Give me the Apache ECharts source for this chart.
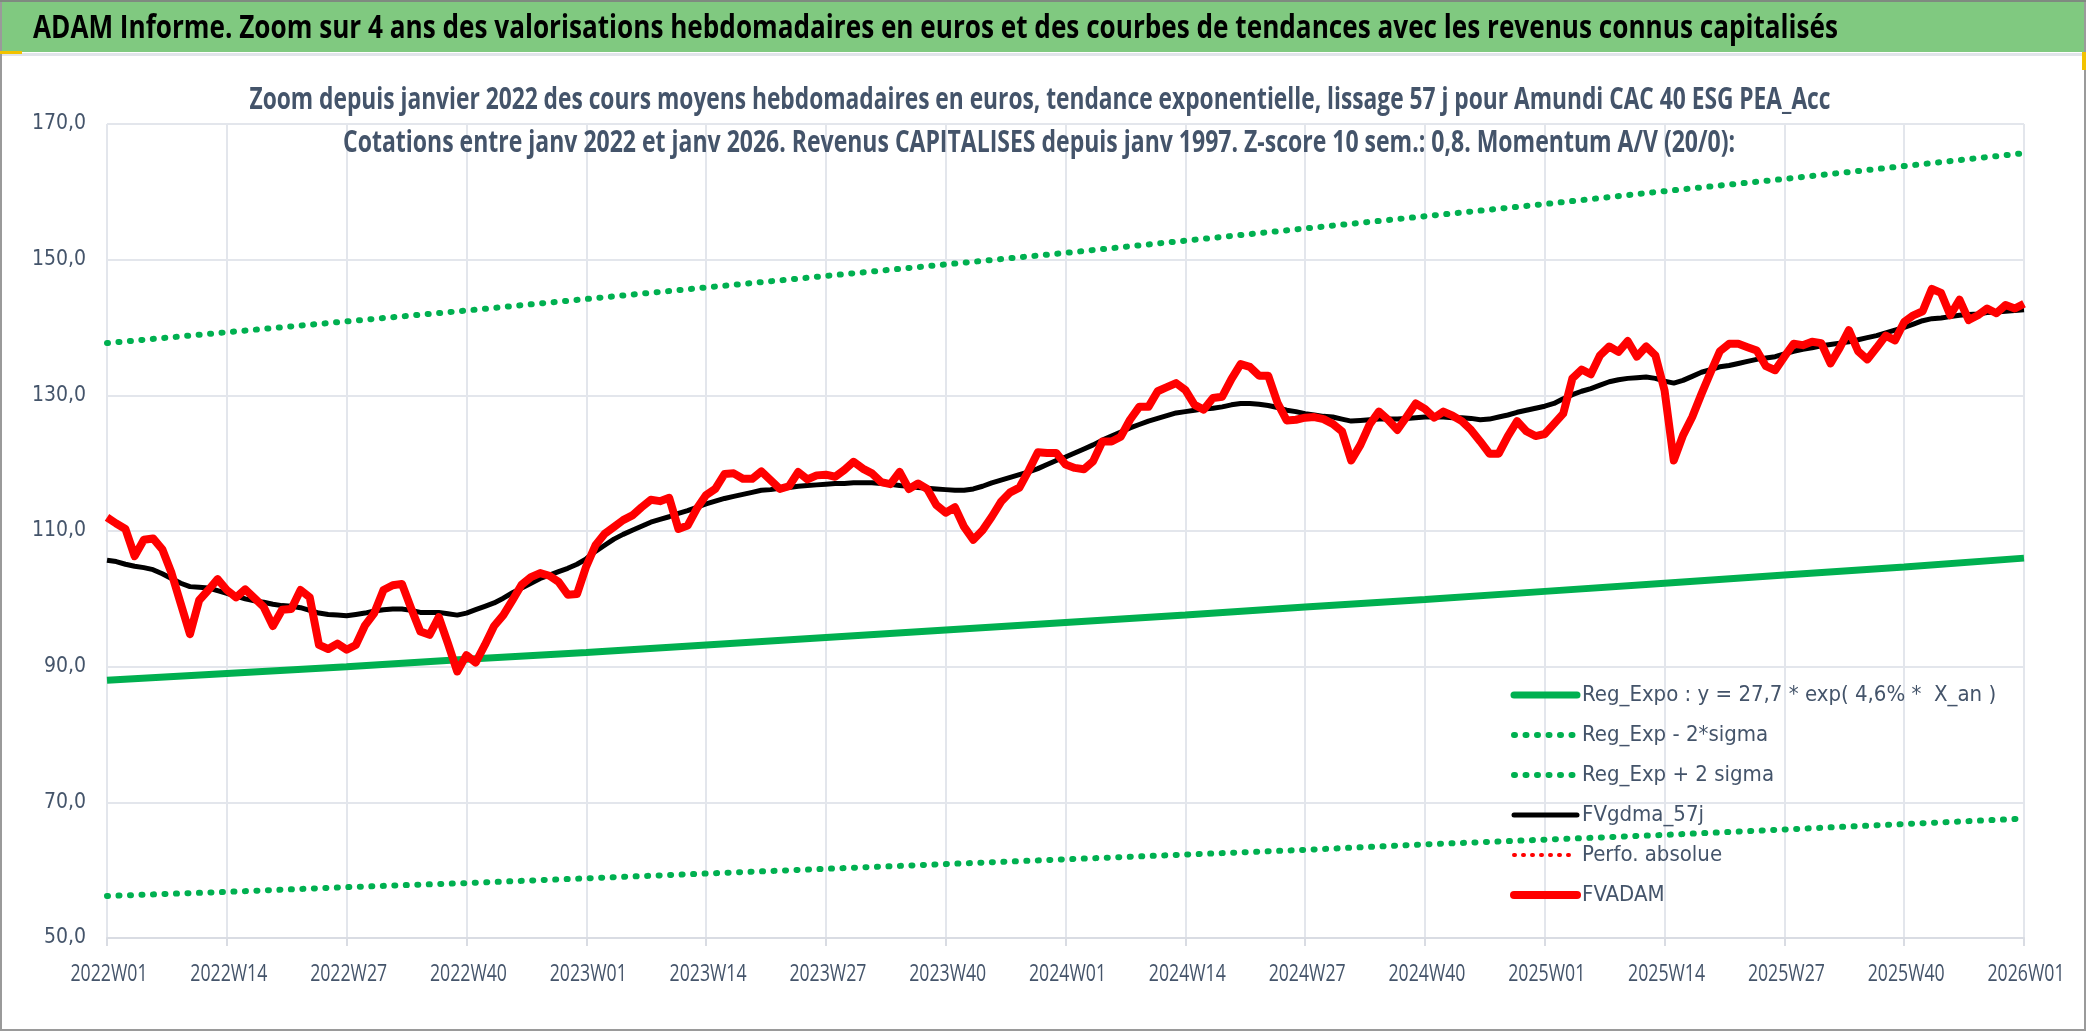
<!DOCTYPE html>
<html>
<head>
<meta charset="utf-8">
<script src="https://cdn.jsdelivr.net/npm/echarts@6/dist/echarts.min.js"></script>
<style>
html,body{margin:0;padding:0;background:#fff;}
#c{width:2086px;height:1031px;}
</style>
</head>
<body>
<div id="c"></div>
<script>
// ---- data ----
const years = [2022, 2023, 2024, 2025];
const weeksPerYear = 52;
const lastLabel = '2026W01';
const yTicks = [50, 70, 90, 110, 130, 150, 170];

const mainTitle = 'ADAM Informe. Zoom sur 4 ans des valorisations hebdomadaires en euros et des courbes de tendances avec les revenus connus capitalisés';
const subTitle1 = 'Zoom depuis janvier 2022 des cours moyens hebdomadaires en euros, tendance exponentielle, lissage 57 j pour Amundi CAC 40 ESG PEA_Acc';
const subTitle2 = 'Cotations entre janv 2022 et janv 2026. Revenus CAPITALISES depuis janv 1997. Z-score 10 sem.: 0,8. Momentum A/V (20/0):';
const seriesNames = ['Reg_Expo : y = 27,7 * exp( 4,6% *  X_an )', 'Reg_Exp - 2*sigma', 'Reg_Exp + 2 sigma', 'FVgdma_57j', 'Perfo. absolue', 'FVADAM'];

// FVADAM weekly values (2022W01 .. 2026W01)
const fvadam = [
112.0,111.1,110.3,106.3,108.7,108.9,107.3,103.8,99.3,94.8,99.8,101.3,102.9,101.3,100.2,101.4,100.1,98.8,96.0,98.4,
98.5,101.3,100.2,93.2,92.6,93.4,92.5,93.2,96.1,97.9,101.3,102.0,102.2,98.6,95.2,94.7,97.3,93.4,89.3,91.7,
90.6,93.2,96.0,97.6,99.8,102.1,103.2,103.8,103.4,102.5,100.6,100.7,104.8,107.9,109.6,110.6,111.6,112.3,113.5,114.6,
114.4,114.9,110.3,110.8,113.3,115.3,116.2,118.4,118.5,117.7,117.7,118.8,117.5,116.2,116.6,118.7,117.6,118.2,118.3,118.0,
119.0,120.2,119.2,118.5,117.2,116.9,118.7,116.2,117.0,116.2,113.8,112.7,113.5,110.6,108.7,110.1,112.1,114.3,115.7,116.4,
118.9,121.6,121.5,121.5,119.8,119.3,119.1,120.3,123.2,123.2,123.9,126.4,128.3,128.3,130.6,131.2,131.8,130.8,128.6,127.9,
129.6,129.8,132.4,134.6,134.2,132.9,132.9,128.9,126.3,126.4,126.7,126.8,126.5,125.8,124.7,120.4,122.7,125.7,127.6,126.4,
124.9,126.8,128.8,128.0,126.7,127.6,127.0,126.2,124.9,123.2,121.4,121.4,124.0,126.2,124.7,124.0,124.3,125.8,127.3,132.5,
133.8,133.1,135.9,137.2,136.4,138.0,135.7,137.2,135.9,130.7,120.4,124.1,126.8,130.2,133.4,136.5,137.6,137.6,137.1,136.6,
134.3,133.7,135.7,137.6,137.4,137.9,137.7,134.7,137.0,139.6,136.5,135.3,137.0,138.8,138.1,140.8,141.8,142.4,145.7,145.1,
141.8,144.1,141.1,141.8,142.8,142.1,143.3,142.8,143.5
];

// FVgdma_57j weekly values
const fvgdma = [
105.7,105.5,105.1,104.8,104.6,104.3,103.7,103.0,102.3,101.8,101.7,101.6,101.2,100.8,100.4,100.0,99.7,99.5,99.2,99.0,
98.9,98.7,98.3,97.9,97.7,97.6,97.5,97.7,97.9,98.2,98.4,98.5,98.5,98.3,98.0,98.0,98.0,97.8,97.6,97.9,
98.4,98.9,99.4,100.1,100.9,101.6,102.3,103.0,103.5,104.0,104.5,105.1,105.9,107.0,107.9,108.8,109.5,110.1,110.7,111.3,
111.7,112.1,112.6,113.0,113.5,114.0,114.4,114.8,115.1,115.4,115.7,116.0,116.1,116.3,116.4,116.6,116.7,116.8,116.9,117.0,
117.0,117.1,117.1,117.1,117.0,116.9,116.7,116.6,116.4,116.3,116.2,116.1,116.0,116.0,116.2,116.6,117.1,117.5,117.9,118.3,
118.7,119.2,119.8,120.4,120.9,121.5,122.1,122.7,123.4,124.0,124.6,125.2,125.7,126.2,126.6,127.0,127.4,127.6,127.8,128.0,
128.1,128.3,128.6,128.8,128.8,128.7,128.5,128.2,127.8,127.6,127.3,127.1,126.9,126.8,126.5,126.2,126.3,126.4,126.5,126.5,
126.5,126.6,126.7,126.8,126.8,126.8,126.7,126.7,126.6,126.4,126.5,126.8,127.1,127.5,127.8,128.1,128.4,128.8,129.5,130.1,
130.6,131.0,131.5,132.0,132.3,132.5,132.6,132.7,132.5,132.1,131.8,132.2,132.8,133.4,133.8,134.2,134.4,134.7,135.0,135.3,
135.5,135.7,136.1,136.5,136.8,137.0,137.3,137.5,137.7,137.9,138.2,138.5,138.8,139.2,139.6,140.0,140.5,141.0,141.3,141.4,
141.6,141.8,141.9,142.0,142.2,142.3,142.4,142.5,142.6
];

// regression curves read at each labelled week (every 13 weeks)
const regExpo  = [88.0,89.0,90.0,91.1,92.1,93.2,94.3,95.4,96.5,97.6,98.8,99.9,101.1,102.3,103.5,104.7,106.0];
const regMinus = [56.2,56.8,57.5,58.1,58.8,59.5,60.2,60.9,61.6,62.3,63.0,63.8,64.5,65.2,66.0,66.8,67.6];
const regPlus  = [137.7,139.3,140.9,142.5,144.2,145.9,147.6,149.3,151.0,152.8,154.6,156.4,158.2,160.1,161.9,163.8,165.7];
const perfoAbs = []; // no visible values

const labelStep = 13;

// ---- build ----
const categories = [];
years.forEach(y => { for (let w = 1; w <= weeksPerYear; w++) categories.push(y + 'W' + (w < 10 ? '0' + w : w)); });
categories.push(lastLabel);

function atTicks(arr) {
  const d = new Array(categories.length).fill(null);
  arr.forEach((v, k) => { d[k * labelStep] = v; });
  return d;
}

const FONT = '"DejaVu Sans Condensed","DejaVu Sans",sans-serif';
const TFONT = '"Open Sans","Noto Sans",sans-serif';
const TXT = '#44546A';

const mctx = document.createElement('canvas').getContext('2d');
function fitScale(text, font, width) { mctx.font = font; return width / mctx.measureText(text).width; }

const titleFont = 'bold 33px ' + TFONT;
const subFont = 'bold 30px ' + TFONT;
const xlabFont = '24px ' + TFONT;

const GREEN = '#00b050';
const chart = echarts.init(document.getElementById('c'), null, {renderer: 'canvas'});

const baseGraphics = [
  {type: 'rect', x: 0, y: 0, shape: {width: 2086, height: 52}, style: {fill: '#80c980'}, z: 0},
  {type: 'rect', x: 0, y: 0, shape: {width: 2086, height: 2}, style: {fill: '#7f8a80'}, z: 1},
  {type: 'rect', x: 0, y: 53, shape: {width: 2086, height: 3}, style: {fill: '#e1e4ea'}, z: 0},
  {type: 'rect', x: 1, y: 1, shape: {width: 2084, height: 1029}, style: {fill: 'none', stroke: '#9a9a9a', lineWidth: 2}, z: 0},
  {type: 'rect', x: 0, y: 51, shape: {width: 22, height: 3}, style: {fill: '#f2c200'}, z: 2},
  {type: 'rect', x: 2082, y: 52, shape: {width: 4, height: 18}, style: {fill: '#f2c200'}, z: 2},
  {type: 'text', x: 33, y: 29, scaleX: fitScale(mainTitle, titleFont, 1805),
   style: {text: mainTitle, font: titleFont, fill: '#000', align: 'left', verticalAlign: 'middle'}, z: 3},
  {type: 'text', x: 1040, y: 100, scaleX: fitScale(subTitle1, subFont, 1581),
   style: {text: subTitle1, font: subFont, fill: TXT, align: 'center', verticalAlign: 'middle'}, z: 3},
  {type: 'text', x: 1039, y: 143, scaleX: fitScale(subTitle2, subFont, 1392),
   style: {text: subTitle2, font: subFont, fill: TXT, align: 'center', verticalAlign: 'middle'}, z: 3}
];

chart.setOption({
  animation: false,
  backgroundColor: '#ffffff',
  textStyle: {fontFamily: FONT},
  graphic: baseGraphics,
  legend: {
    orient: 'vertical', left: 1510, top: 684, padding: 0,
    itemWidth: 63, itemHeight: 14, itemGap: 18,
    itemStyle: {opacity: 0},
    lineStyle: {width: 'inherit', type: 'inherit', cap: 'round'},
    textStyle: {fontFamily: FONT, fontSize: 22, color: TXT, lineHeight: 22},
    data: seriesNames
  },
  grid: {left: 107, right: 62, top: 124, bottom: 93, containLabel: false},
  xAxis: {
    type: 'category', data: categories, boundaryGap: false,
    axisLine: {show: true, lineStyle: {color: '#d9dce3', width: 2}},
    axisTick: {show: true, interval: labelStep - 1, length: 8, lineStyle: {color: '#d9dce3', width: 2}},
    axisLabel: {show: false, interval: labelStep - 1},
    splitLine: {show: true, interval: labelStep - 1, lineStyle: {color: '#e3e6ec', width: 2}}
  },
  yAxis: {
    type: 'value', min: yTicks[0], max: yTicks[yTicks.length - 1], interval: 20,
    axisLine: {show: false}, axisTick: {show: false},
    axisLabel: {color: TXT, fontSize: 21, fontFamily: FONT, margin: 21, formatter: v => v.toFixed(1).replace('.', ',')},
    splitLine: {show: true, lineStyle: {color: '#e3e6ec', width: 2}}
  },
  series: [
    {name: seriesNames[0], type: 'line', data: atTicks(regExpo), connectNulls: true, symbol: 'none',
     lineStyle: {color: GREEN, width: 7}, itemStyle: {color: GREEN}},
    {name: seriesNames[1], type: 'line', data: atTicks(regMinus), connectNulls: true, symbol: 'none',
     lineStyle: {color: GREEN, width: 6, type: [1, 10.5], cap: 'round'}, itemStyle: {color: GREEN}},
    {name: seriesNames[2], type: 'line', data: atTicks(regPlus), connectNulls: true, symbol: 'none',
     lineStyle: {color: GREEN, width: 6, type: [1, 10.5], cap: 'round'}, itemStyle: {color: GREEN}},
    {name: seriesNames[3], type: 'line', data: fvgdma, symbol: 'none',
     lineStyle: {color: '#000000', width: 5}, itemStyle: {color: '#000000'}},
    {name: seriesNames[4], type: 'line', data: perfoAbs, symbol: 'none',
     lineStyle: {color: '#ff0000', width: 4, type: [1, 8], cap: 'round'}, itemStyle: {color: '#ff0000'}},
    {name: seriesNames[5], type: 'line', data: fvadam, symbol: 'none',
     lineStyle: {color: '#ff0000', width: 8, join: 'round'}, itemStyle: {color: '#ff0000'}}
  ]
});

// x-axis labels placed through the axis scale (narrow text like the original)
const xlabScale = fitScale('2022W01', xlabFont, 77);
const yBase = chart.convertToPixel({yAxisIndex: 0}, yTicks[0]);
const labelGraphics = [];
for (let k = 0; k < categories.length; k += labelStep) {
  const px = chart.convertToPixel({xAxisIndex: 0}, k);
  labelGraphics.push({type: 'text', x: px + 2, y: yBase + 36, scaleX: xlabScale,
    style: {text: categories[k], font: xlabFont, fill: TXT, align: 'center', verticalAlign: 'middle'}, z: 3});
}
chart.setOption({graphic: baseGraphics.concat(labelGraphics)}, {replaceMerge: ['graphic']});
</script>
</body>
</html>
